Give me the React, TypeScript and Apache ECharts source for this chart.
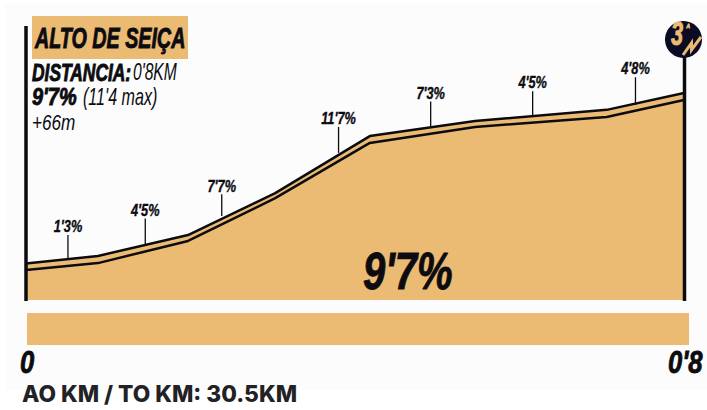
import React, { useEffect, useRef } from "react";
import * as echarts from "echarts";

const distKm = [0, 0.0875, 0.197, 0.303, 0.418, 0.546, 0.706, 0.8];
const upperAlt = [14.3, 17.3, 25.5, 42, 64.4, 70.3, 74.7, 81.3];
const lowerAlt = [11.8, 14.5, 23.2, 40, 61.7, 68, 71.9, 78.6];
const gradeLabels = ["1'3%", "4'5%", "7'7%", "11'7%", "7'3%", "4'5%", "4'8%"];
const gradeKm = [0.051, 0.145, 0.238, 0.38, 0.492, 0.616, 0.741];
const gradeBase = [16.1, 21.6, 33, 57.8, 68, 72.5, 76.6];
const gradeTop = [25.5, 32, 41.5, 68, 78, 82, 87.5];

const ORANGE = "#ebbb74";
const INK = "#0c0c10";
const FONT = '"Liberation Sans", sans-serif';

export default function App() {
  const ref = useRef<HTMLDivElement>(null);
  useEffect(() => {
    document.body.style.margin = "0";
    const chart = echarts.init(ref.current!, undefined, { renderer: "svg" });
    const txt = (
      text: string,
      x: number,
      y: number,
      font: number,
      weight: any,
      sx: number,
      extra: any = {}
    ) => ({
      type: "text",
      x,
      y,
      scaleX: sx,
      z: 20,
      style: {
        text,
        fontFamily: FONT,
        fontSize: font,
        fontWeight: weight,
        fontStyle: "italic",
        fill: INK,
        stroke: weight === "bold" ? extra.fill || INK : undefined,
        lineWidth: weight === "bold" ? 0.9 : 0,
        textAlign: "left",
        textVerticalAlign: "middle",
        ...extra,
      },
    });
    chart.setOption({
      animation: false,
      backgroundColor: "#ffffff",
      grid: { left: 26, right: 23, top: 20, bottom: 110 },
      xAxis: {
        type: "value",
        min: 0,
        max: 0.8,
        interval: 0.8,
        splitLine: { show: false },
        axisLine: { show: false },
        axisTick: { show: false },
        axisLabel: { show: false },
      },
      yAxis: { type: "value", min: 0, max: 110, show: false },
      graphic: [
        { type: "rect", z: -10, silent: true, shape: { x: 5, y: 4, width: 702, height: 386 }, style: { fill: "#fcfcfd" } },
        { type: "rect", z: 5, shape: { x: 27, y: 313, width: 662, height: 32 }, style: { fill: ORANGE } },
        { type: "line", z: 10, shape: { x1: 26, y1: 26, x2: 26, y2: 301 }, style: { stroke: INK, lineWidth: 3.5 } },
        { type: "line", z: 10, shape: { x1: 684.5, y1: 55, x2: 684.5, y2: 301 }, style: { stroke: INK, lineWidth: 3.5 } },
        { type: "rect", z: 5, shape: { x: 32, y: 16, width: 156, height: 43 }, style: { fill: ORANGE } },
        txt("ALTO DE SEIÇA", 35, 38, 29, "bold", 0.68),
        txt("DISTANCIA:", 32, 72, 23.5, "bold", 0.74),
        txt("0'8KM", 133, 72, 23, "normal", 0.68),
        txt("9'7%", 32, 97, 24, "bold", 0.83),
        txt("(11'4 max)", 83, 97, 23, "normal", 0.7),
        txt("+66m", 32, 122, 22, "normal", 0.78),
        txt("9'7%", 363, 271, 52, "bold", 0.77),
        txt("0", 20, 362, 32, "bold", 0.8),
        txt("0'8", 668, 362, 32, "bold", 0.8),
        { type: "circle", z: 12, shape: { cx: 683.5, cy: 39.5, r: 18.5 }, style: { fill: "#0b0b24" } },
        txt("3", 671, 34, 33, "bold", 0.66, { fill: ORANGE }),
        txt("A", 686.5, 26, 6, "bold", 0.8, { fill: ORANGE }),
        {
          type: "polyline",
          z: 13,
          shape: { points: [[683, 55], [691.5, 43], [691.5, 50], [701, 37]] },
          style: { stroke: ORANGE, lineWidth: 3, fill: "none" },
        },
        {
          type: "text",
          x: 22,
          y: 393,
          z: 20,
          style: {
            text: "AO KM / TO KM: 30.5KM",
            fontFamily: "Inter, sans-serif",
            fontSize: 22.7,
            fontWeight: 800,
            fill: "#222226",
            textVerticalAlign: "middle",
          },
        },
      ],
      series: [
        {
          type: "line",
          z: 3,
          symbol: "none",
          data: distKm.map((d, i) => [d, upperAlt[i]]),
          lineStyle: { color: INK, width: 2.5 },
          areaStyle: { color: ORANGE, opacity: 1 },
        },
        {
          type: "line",
          z: 4,
          symbol: "none",
          data: distKm.map((d, i) => [d, lowerAlt[i]]),
          lineStyle: { color: INK, width: 2.5 },
          areaStyle: { color: ORANGE, opacity: 1 },
        },
        {
          type: "custom",
          z: 6,
          silent: true,
          data: gradeKm.map((k, i) => [k, gradeBase[i], gradeTop[i]]),
          renderItem: (params: any, api: any) => {
            const a = api.coord([api.value(0), api.value(1)]);
            const b = api.coord([api.value(0), api.value(2)]);
            return {
              type: "group",
              children: [
                {
                  type: "line",
                  shape: { x1: a[0], y1: a[1], x2: b[0], y2: b[1] },
                  style: { stroke: INK, lineWidth: 1.3 },
                },
                {
                  type: "text",
                  x: b[0],
                  y: b[1] - 9,
                  scaleX: 0.75,
                  style: {
                    text: gradeLabels[params.dataIndex],
                    fontFamily: FONT,
                    fontSize: 17,
                    fontWeight: "bold",
                    fontStyle: "italic",
                    fill: INK,
                    stroke: INK,
                    lineWidth: 0.4,
                    textAlign: "center",
                    textVerticalAlign: "middle",
                  },
                },
              ],
            };
          },
        },
      ],
    });
    return () => chart.dispose();
  }, []);
  return <div ref={ref} style={{ width: 707, height: 410 }} />;
}
